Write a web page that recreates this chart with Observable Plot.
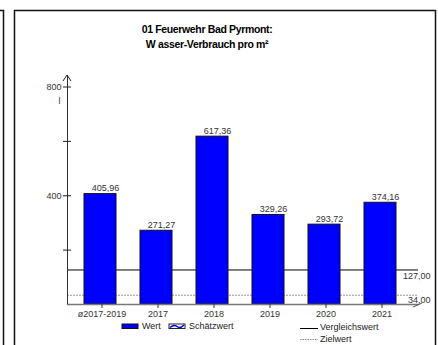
<!DOCTYPE html>
<html><head><meta charset="utf-8">
<script src="https://cdn.jsdelivr.net/npm/d3@7"></script>
<script src="https://cdn.jsdelivr.net/npm/@observablehq/plot@0.6"></script>
<style>body{margin:0;background:#fff}svg{display:block}</style>
</head><body><div id="chart"></div>
<script>
const categories = ["ø2017-2019", "2017", "2018", "2019", "2020", "2021"];
const values = [405.96, 271.27, 617.36, 329.26, 293.72, 374.16];
const yTicks = [200, 400, 600, 800];
const yLabels = [400, 800];
const vergleichswert = [127];
const zielwert = [34];
const titleLines = ["01 Feuerwehr Bad Pyrmont:", "W asser-Verbrauch pro m²"];
const unitLabel = ["l"];
const legendLabels = ["Wert", "Schätzwert", "Vergleichswert", "Zielwert"];

const data = categories.map((c, i) => ({cat: c, value: values[i]}));
const fmt = v => v.toFixed(2).replace(".", ",");
const W = 438, H = 345;
const font = "'Liberation Sans', Arial, sans-serif";

const plot = Plot.plot({
  width: W, height: H,
  marginLeft: 67, marginRight: 20, marginTop: 75, marginBottom: 41,
  style: {fontFamily: font, fontSize: "9px", background: "#fff", color: "#333", overflow: "visible"},
  x: {domain: categories, range: [70.25, 409.25], paddingInner: 0.434, paddingOuter: 0.217, axis: null},
  y: {domain: [0, 800], range: [304, 86.5], axis: null},
  marks: [
    Plot.ruleY(zielwert, {stroke: "#999", strokeDasharray: "2,1", strokeWidth: 1.2}),
    Plot.ruleY(vergleichswert, {stroke: "#000", strokeWidth: 1}),
    Plot.barY(data, {x: "cat", y: "value", fill: "#0000ff", stroke: "#111", strokeWidth: 1}),
    Plot.text(data, {x: "cat", y: "value", text: d => fmt(d.value), dy: -6, dx: 5, fill: "#333", fontSize: 9}),
    Plot.text(vergleichswert, {y: d => d, text: d => fmt(d), frameAnchor: "right", textAnchor: "end", dx: 12, dy: 6, fill: "#333", fontSize: 9}),
    Plot.text(zielwert, {y: d => d, text: d => fmt(d), frameAnchor: "right", textAnchor: "end", dx: 12, dy: 5, fill: "#333", fontSize: 9}),
    Plot.frame({anchor: "left", stroke: "#333"}),
    Plot.frame({anchor: "bottom", stroke: "#777", strokeWidth: 1.3}),
    Plot.axisY({ticks: yTicks, tickSize: 8, dx: 4, tickFormat: () => "", stroke: "#222", label: null}),
    Plot.axisY({ticks: yLabels, tickSize: 0, tickPadding: 6, tickFormat: d => String(d), fill: "#333", fontSize: 9, label: null}),
    Plot.axisX({tickSize: 4, tickPadding: 2, dx: 1.5, stroke: "#333", fill: "#333", fontSize: 9, label: null}),
    Plot.text(unitLabel, {frameAnchor: "top-left", text: d => d, dx: -9, dy: 22, fill: "#333", fontSize: 9}),
    Plot.text([titleLines.join("\n")], {frameAnchor: "top", text: d => d, lineAnchor: "top", dx: -36, dy: -53,
      fontSize: 10.5, fontWeight: "bold", fill: "#000", lineHeight: 1.4})
  ]
});
document.getElementById("chart").append(plot);

const svg = d3.select(plot);
// slightly tighter title letter spacing like the reference
svg.selectAll("text").filter(function() { return this.textContent.includes("Feuerwehr"); })
  .style("letter-spacing", "-0.35px");

// decorations: frame, axis arrow heads, legend
const g = svg.append("g").attr("fill", "none");
g.append("rect").attr("x", 14.5).attr("y", 10.5).attr("width", 421).attr("height", 345)
  .attr("stroke", "#111").attr("stroke-width", 1.5);
g.append("path").attr("d", "M0,10.5H3.5V345").attr("stroke", "#111").attr("stroke-width", 1.5);
const y = plot.scale("y");
const x0 = 67, yTop = 75, yBase = y.apply(0);
g.append("path").attr("d", `M${x0 - 4},${yTop + 6}L${x0},${yTop}L${x0 + 4},${yTop + 6}`).attr("stroke", "#222");
g.append("path").attr("d", `M413,${yBase + 3}L422,${yBase - 1}`).attr("stroke", "#555");

const lg = svg.append("g").attr("font-family", font).attr("font-size", 9).attr("fill", "#222").attr("text-anchor", "start");
// Wert
lg.append("rect").attr("x", 122).attr("y", 324).attr("width", 16).attr("height", 4.5).attr("fill", "#0000ff").attr("stroke", "#111");
lg.append("text").attr("x", 142).attr("y", 326).attr("dy", "0.35em").text(legendLabels[0]);
// Schätzwert
lg.append("rect").attr("x", 169).attr("y", 324).attr("width", 16).attr("height", 4.5).attr("fill", "#fff").attr("stroke", "#223");
lg.append("path").attr("d", "M170,327.5Q174,324 177,326.5T184,325").attr("fill", "none").attr("stroke", "#0000ff").attr("stroke-width", 1.5);
lg.append("text").attr("x", 189).attr("y", 326).attr("dy", "0.35em").text(legendLabels[1]);
// Vergleichswert
lg.append("line").attr("x1", 300).attr("x2", 318).attr("y1", 328.5).attr("y2", 328.5).attr("stroke", "#000");
lg.append("text").attr("x", 320).attr("y", 327).attr("dy", "0.35em").text(legendLabels[2]);
// Zielwert
lg.append("line").attr("x1", 300).attr("x2", 318).attr("y1", 339.5).attr("y2", 339.5).attr("stroke", "#888").attr("stroke-dasharray", "1.5,1");
lg.append("text").attr("x", 320).attr("y", 338.5).attr("dy", "0.35em").text(legendLabels[3]);
</script>
</body></html>
